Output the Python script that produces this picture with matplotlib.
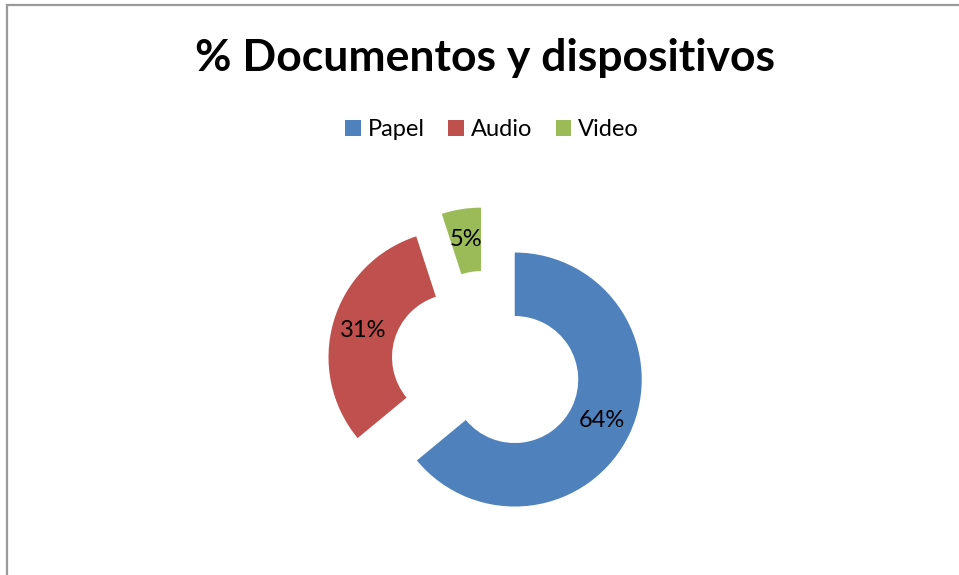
import matplotlib.pyplot as plt
from matplotlib.patches import Rectangle

# Datos
categorias = ["Papel", "Audio", "Video"]
porcentajes = [64, 31, 5]
colores = ["#4F81BD", "#C0504D", "#9BBB59"]

plt.rcParams['font.family'] = ['Lato', 'DejaVu Sans']

fig = plt.figure(figsize=(9.59, 5.75), dpi=100)
ax = fig.add_axes([0, 0, 1, 1])

# Donut con porciones separadas
wedges, textos, autotextos = ax.pie(
    porcentajes,
    colors=colores,
    startangle=90,
    counterclock=False,
    explode=[0.25] * len(porcentajes),
    radius=1.0,
    wedgeprops=dict(width=0.5, edgecolor="none"),
    autopct="%1.0f%%",
    pctdistance=0.76,
    textprops=dict(fontsize=17, color="black"),
)

# Centro del gráfico en pixel (486, 366), radio 127 px
esc = 127.0
ax.set_xlim(-486 / esc, (959 - 486) / esc)
ax.set_ylim(-(575 - 366) / esc, 366 / esc)
ax.set_axis_off()

# Borde del área del gráfico
fig.patches.append(Rectangle((7 / 959, -0.1), 1.1, (570 / 575) + 0.1,
                             transform=fig.transFigure, fill=False,
                             edgecolor="#9A9A9A", linewidth=1.6))

fig.text(485 / 959, 1 - 58 / 575, "% Documentos y dispositivos",
         ha="center", va="center", fontsize=32, fontweight="bold")

fig.legend(wedges, categorias, loc="center", bbox_to_anchor=(492 / 959, 1 - 130 / 575),
           ncol=3, frameon=False, fontsize=17, handlelength=0.65, handleheight=0.65,
           handletextpad=0.3, columnspacing=1.0)

fig.savefig("out.png", dpi=100)
